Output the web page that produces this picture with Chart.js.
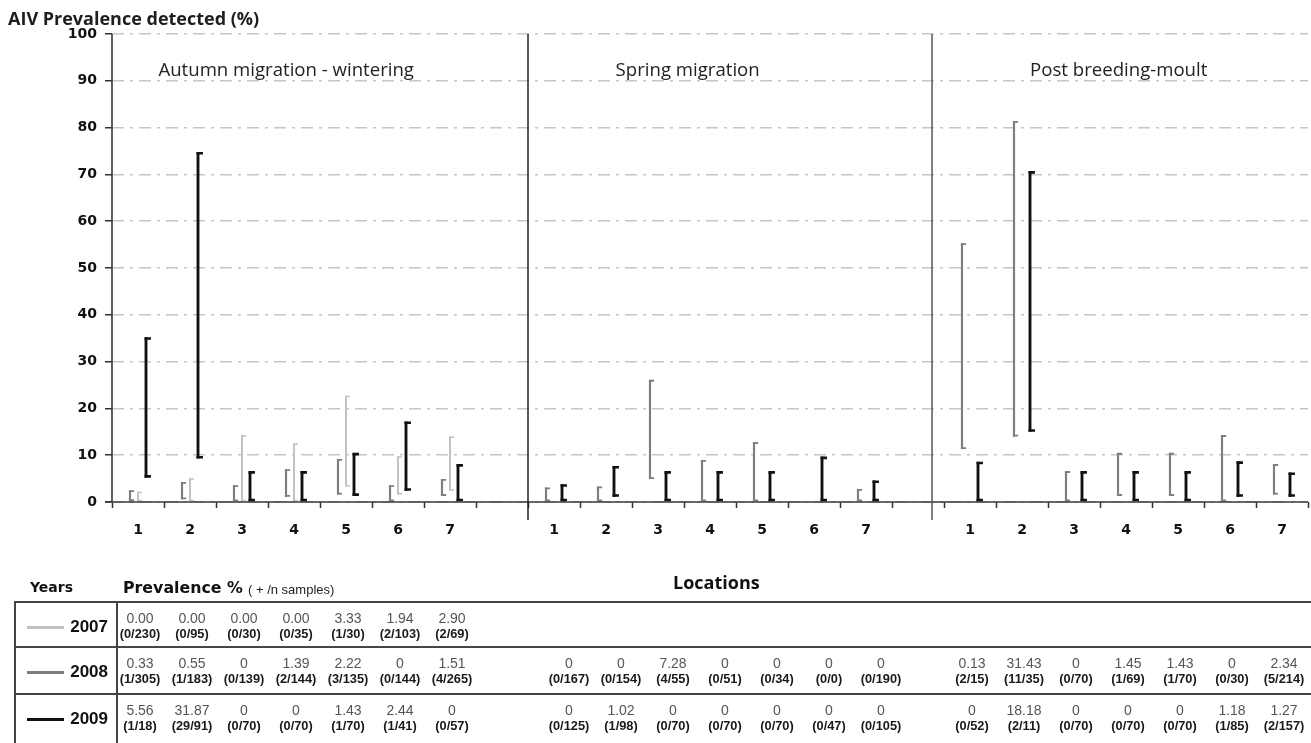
<!DOCTYPE html>
<html>
<head>
<meta charset="utf-8">
<script src="https://cdn.jsdelivr.net/npm/chart.js@4.4.0/dist/chart.umd.min.js"></script>
<style>
html,body{margin:0;padding:0;background:#fff;}
#wrap{position:relative;width:1311px;height:743px;overflow:hidden;background:#fff;}
#c{position:absolute;left:0;top:0;width:1311px;height:743px;}
.t{position:absolute;white-space:nowrap;}
.hl{position:absolute;height:0;border-top:2px solid #444;}
.vl{position:absolute;width:0;border-left:2px solid #444;}
</style>
</head>
<body>
<div id="wrap">
<canvas id="c" width="1311" height="743"></canvas>
<div id="title" class="t" style="left:8px;top:7px;font:bold 18px 'Open Sans';line-height:22px;color:#1e1e1e;">AIV Prevalence detected (%)</div>
<div id="tbl"></div>
</div>
<script>
// ---------- DATA ----------
const locations = ['1','2','3','4','5','6','7'];
const periods = ['Autumn migration - wintering','Spring migration','Post breeding-moult'];
const years = ['2007','2008','2009'];

// 95% CI bounds (%), 21 entries = 3 periods x 7 locations
const low2007  = [0, 0, 0, 0, 3.3, 1.6, 2.4,   null,null,null,null,null,null,null,   null,null,null,null,null,null,null];
const high2007 = [2.2, 5.1, 14.3, 12.5, 22.7, 9.8, 14.0, null,null,null,null,null,null,null, null,null,null,null,null,null,null];

const low2008  = [0.2, 0.6, 0, 1.1, 1.6, 0, 1.3,   0, 0, 4.9, 0, 0, null, 0,   11.3, 14.0, 0, 1.3, 1.3, 0, 1.6];
const high2008 = [2.5, 4.3, 3.6, 7.0, 9.2, 3.6, 4.9, 3.1, 3.3, 26.1, 9.0, 12.8, null, 2.8, 55.3, 81.4, 6.6, 10.5, 10.5, 14.3, 8.1];

const low2009  = [5.2, 9.3, 0, 0, 1.3, 2.4, 0,   0, 1.1, 0, 0, 0, 0, 0,   0, 15.0, 0, 0, 0, 1.1, 1.1];
const high2009 = [35.2, 74.8, 6.6, 6.6, 10.5, 17.2, 8.1, 3.8, 7.7, 6.6, 6.6, 6.6, 9.7, 4.6, 8.6, 70.7, 6.6, 6.6, 6.6, 8.7, 6.3];

// Table: prevalence % and (+/n samples)
const prev2007 = ['0.00','0.00','0.00','0.00','3.33','1.94','2.90', '','','','','','','', '','','','','','',''];
const frac2007 = ['(0/230)','(0/95)','(0/30)','(0/35)','(1/30)','(2/103)','(2/69)', '','','','','','','', '','','','','','',''];
const prev2008 = ['0.33','0.55','0','1.39','2.22','0','1.51', '0','0','7.28','0','0','0','0', '0.13','31.43','0','1.45','1.43','0','2.34'];
const frac2008 = ['(1/305)','(1/183)','(0/139)','(2/144)','(3/135)','(0/144)','(4/265)', '(0/167)','(0/154)','(4/55)','(0/51)','(0/34)','(0/0)','(0/190)', '(2/15)','(11/35)','(0/70)','(1/69)','(1/70)','(0/30)','(5/214)'];
const prev2009 = ['5.56','31.87','0','0','1.43','2.44','0', '0','1.02','0','0','0','0','0', '0','18.18','0','0','0','1.18','1.27'];
const frac2009 = ['(1/18)','(29/91)','(0/70)','(0/70)','(1/70)','(1/41)','(0/57)', '(0/125)','(1/98)','(0/70)','(0/70)','(0/70)','(0/47)','(0/105)', '(0/52)','(2/11)','(0/70)','(0/70)','(0/70)','(1/85)','(2/157)'];

const yMin = 0, yMax = 100, yStep = 10;

// ---------- STYLE ----------
const colors = {'2007':'#c2c2c2','2008':'#7e7e7e','2009':'#111111'};
const capW = {'2007':1.6,'2008':1.8,'2009':2.6};
const capLen = {'2007':3,'2008':3,'2009':3.5};
const barPct = {'2007':0.25,'2008':0.27,'2009':0.36};
const dividerPos = [7.5, 15.27];           // in category units
const groupLabelPos = [2.85, 10.57, 18.86]; // in category units
const groupLabelY = 92.1;
const tableShift = [2, 15, 2];

// ---------- BUILD ----------
const SLOTS = 8;
const labels = [];
periods.forEach((p,pi)=>{
  locations.forEach(l=>labels.push(l));
  if (pi < periods.length-1) labels.push('');
});
function slotOf(i){ return Math.floor(i/7)*SLOTS + (i%7); }
function toSlots(lo, hi){
  const arr = new Array(labels.length).fill(null);
  lo.forEach((v,i)=>{ if (v!==null && hi[i]!==null) arr[slotOf(i)] = [v, hi[i]]; });
  return arr;
}
const series = {'2007':[low2007,high2007],'2008':[low2008,high2008],'2009':[low2009,high2009]};
const order = ['2008','2007','2009'];
const datasets = order.map(y=>({
  label: y,
  data: toSlots(series[y][0], series[y][1]),
  backgroundColor: colors[y],
  borderWidth: 0,
  barPercentage: barPct[y],
  categoryPercentage: 24/52
}));

const capPlugin = {
  id:'caps',
  afterDatasetsDraw(chart){
    const ctx = chart.ctx;
    chart.data.datasets.forEach((ds,i)=>{
      const meta = chart.getDatasetMeta(i);
      const yr = ds.label;
      meta.data.forEach((el,j)=>{
        if (ds.data[j]==null) return;
        const p = el.getProps(['x','y','base','width'], true);
        const top = Math.min(p.y,p.base), bot = Math.max(p.y,p.base);
        const lw = capW[yr];
        ctx.save();
        ctx.strokeStyle = colors[yr];
        ctx.lineWidth = lw;
        ctx.beginPath();
        const x0 = p.x - p.width/2, x1 = p.x + p.width/2 + capLen[yr];
        ctx.moveTo(x0, top + lw/2); ctx.lineTo(x1, top + lw/2);
        ctx.moveTo(x0, bot - lw/2); ctx.lineTo(x1, bot - lw/2);
        ctx.stroke();
        ctx.restore();
      });
    });
  },
  afterDraw(chart){
    const {ctx, chartArea} = chart;
    const xs = chart.scales.x, ys = chart.scales.y;
    ctx.save();
    // axes
    ctx.strokeStyle = '#3a3a3a';
    ctx.lineWidth = 1.6;
    ctx.beginPath();
    ctx.moveTo(chartArea.left, ys.getPixelForValue(yMax));
    ctx.lineTo(chartArea.left, ys.getPixelForValue(yMin));
    ctx.moveTo(chartArea.left - 7, ys.getPixelForValue(yMin));
    ctx.lineTo(chartArea.right, ys.getPixelForValue(yMin));
    ctx.stroke();
    // dividers
    ctx.lineWidth = 1.5;
    dividerPos.forEach((v,k)=>{
      const px = xs.getPixelForValue(v);
      ctx.strokeStyle = k===0 ? '#222' : '#555';
      ctx.beginPath();
      ctx.moveTo(px, ys.getPixelForValue(yMax));
      ctx.lineTo(px, chartArea.bottom + 18);
      ctx.stroke();
    });
    // group labels
    ctx.fillStyle = '#222';
    ctx.font = "18.6px 'Open Sans'";
    ctx.textAlign = 'center';
    ctx.textBaseline = 'middle';
    periods.forEach((p,k)=>{
      ctx.fillText(p, xs.getPixelForValue(groupLabelPos[k]), ys.getPixelForValue(groupLabelY));
    });
    ctx.restore();
  }
};

const chart = new Chart(document.getElementById('c'), {
  type:'bar',
  data:{labels, datasets},
  options:{
    responsive:false,
    animation:false,
    layout:{padding:{top:34,left:0,right:3,bottom:0}},
    plugins:{legend:{display:false},tooltip:{enabled:false},title:{display:false}},
    scales:{
      x:{
        grid:{drawOnChartArea:false, drawTicks:true, tickLength:6, tickColor:'#333', tickWidth:1.5, offset:true},
        border:{display:false},
        ticks:{autoSkip:false, maxRotation:0, padding:14, color:'#111', font:{family:'DejaVu Sans', weight:'bold', size:14}},
        afterFit(s){ s.height = 241; }
      },
      y:{
        min:yMin, max:yMax,
        grid:{color:'#c6c6c6', lineWidth:1.5, drawTicks:true, tickLength:7, tickColor:'#333', tickWidth:1.5},
        border:{display:false, dash:[12,6,3,6]},
        ticks:{stepSize:yStep, padding:8, color:'#111', font:{family:'DejaVu Sans', weight:'bold', size:14}},
        afterFit(s){ s.width = 112; }
      }
    }
  },
  plugins:[capPlugin]
});

// ---------- TABLE ----------
(function(){
  const tbl = document.getElementById('tbl');
  const xs = chart.scales.x;
  function add(html, style, cls){
    const d = document.createElement('div');
    d.className = cls || 't';
    d.setAttribute('style', style);
    d.innerHTML = html;
    tbl.appendChild(d);
    return d;
  }
  // headers
  add('Years', "left:30px;top:577px;font:bold 14px 'DejaVu Sans';line-height:20px;color:#111;");
  add('Prevalence %', "left:123px;top:578px;font:bold 15.8px 'DejaVu Sans';line-height:20px;color:#111;");
  add('( + /n samples)', "left:248px;top:581px;font:13px 'Liberation Sans';line-height:18px;color:#222;");
  add('Locations', "left:673px;top:570px;font:bold 18px 'Open Sans';line-height:24px;color:#111;");
  // lines
  const rowTops = [602, 647, 694];
  rowTops.forEach(t=> add('', `left:15px;top:${t-1}px;width:1300px;`, 'hl'));
  add('', 'left:14px;top:601px;height:150px;', 'vl');
  add('', 'left:116px;top:601px;height:150px;', 'vl');
  // rows
  const rows = [
    ['2007', prev2007, frac2007],
    ['2008', prev2008, frac2008],
    ['2009', prev2009, frac2009]
  ];
  rows.forEach((r,ri)=>{
    const top = rowTops[ri];
    add('', `left:27px;top:${top+24}px;width:37px;height:3px;background:${colors[r[0]]};`, 't');
    add(r[0], `left:62px;top:${top+15}px;width:46px;text-align:right;font:bold 17px 'Liberation Sans';line-height:20px;color:#111;`);
    r[1].forEach((v,i)=>{
      if (v==='' ) return;
      const period = Math.floor(i/7);
      const cx = xs.getPixelForValue(slotOf(i)) + tableShift[period];
      add(v, `left:${cx-40}px;width:80px;text-align:center;top:${top+7}px;font:14px 'Liberation Sans';line-height:18px;color:#555;`);
      add(r[2][i], `left:${cx-40}px;width:80px;text-align:center;top:${top+24}px;font:bold 12.8px 'Liberation Sans';line-height:16px;color:#1a1a1a;`);
    });
  });
})();
</script>
</body>
</html>
